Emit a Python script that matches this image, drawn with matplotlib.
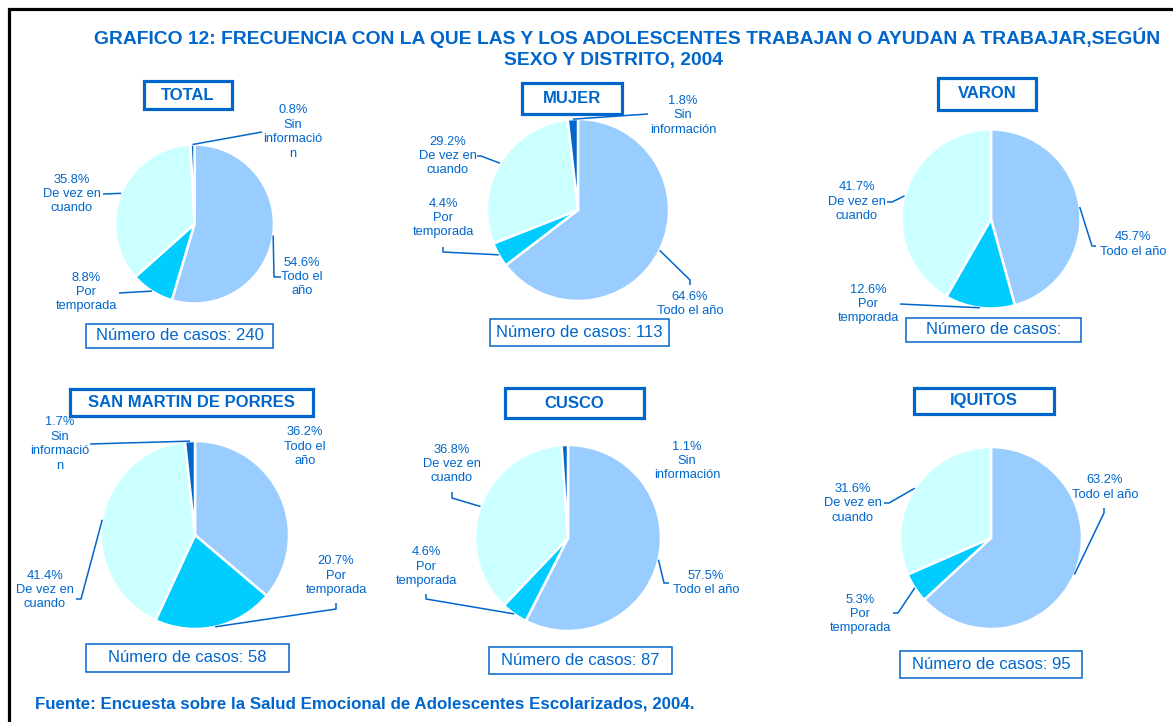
import matplotlib
matplotlib.use("Agg")
import matplotlib.pyplot as plt
from matplotlib.patches import Rectangle
import numpy as np

plt.rcParams['font.family'] = ['Liberation Sans', 'DejaVu Sans']

W, H = 1173, 722

# ---------------- data ----------------
categories = ["Todo el año", "Por temporada", "De vez en cuando", "Sin información"]
panel_titles = ["TOTAL", "MUJER", "VARON", "SAN MARTIN DE PORRES", "CUSCO", "IQUITOS"]
total_pct = [54.6, 8.8, 35.8, 0.8]
mujer_pct = [64.6, 4.4, 29.2, 1.8]
varon_pct = [45.7, 12.6, 41.7, 0.0]
smp_pct = [36.2, 20.7, 41.4, 1.7]
cusco_pct = [57.5, 4.6, 36.8, 1.1]
iquitos_pct = [63.2, 5.3, 31.6, 0.0]
casos = ["240", "113", "", "58", "87", "95"]

# category labels as wrapped in the original chart
labels_total = ["Todo el\naño", "Por\ntemporada", "De vez en\ncuando", "Sin\ninformació\nn"]
labels_mujer = ["Todo el año", "Por\ntemporada", "De vez en\ncuando", "Sin\ninformación"]
labels_varon = ["Todo el año", "Por\ntemporada", "De vez en\ncuando", "Sin\ninformación"]
labels_smp = ["Todo el\naño", "Por\ntemporada", "De vez en\ncuando", "Sin\ninformació\nn"]
labels_cusco = ["Todo el año", "Por\ntemporada", "De vez en\ncuando", "Sin\ninformación"]
labels_iquitos = ["Todo el año", "Por\ntemporada", "De vez en\ncuando", "Sin\ninformación"]

title_line1 = "GRAFICO 12: FRECUENCIA CON LA QUE LAS Y LOS ADOLESCENTES TRABAJAN O AYUDAN A TRABAJAR,SEGÚN"
title_line2 = "SEXO Y DISTRITO, 2004"
source_text = "Fuente: Encuesta sobre la Salud Emocional de Adolescentes Escolarizados, 2004."

colors = ["#99CCFF", "#00CCFF", "#CCFFFF", "#0066CC"]
BLUE = "#0066CC"

values = [total_pct, mujer_pct, varon_pct, smp_pct, cusco_pct, iquitos_pct]
label_sets = [labels_total, labels_mujer, labels_varon, labels_smp, labels_cusco, labels_iquitos]

# ---------------- layout (pixel coordinates, y down) ----------------
layout = [
    dict(c=(194.5, 224), r=79.5, tbox=(144, 81, 232, 109), cbox=(86, 324, 273, 348),
         lab={0: ((302, 277), [(274, 277), (281, 277)]),
              1: ((86, 292), [(119, 293)]),
              2: ((72, 194), [(103, 194)]),
              3: ((293, 132), [(262, 132)])}),
    dict(c=(578, 210), r=91, tbox=(522, 83, 622, 114), cbox=(490, 319, 669, 346),
         lab={0: ((690, 304), [(690, 280), (690, 285)]),
              1: ((443, 218), [(443, 252), (443, 247)]),
              2: ((448, 156), [(481, 156), (477, 156)]),
              3: ((683, 115.5), [(648, 114)])}),
    dict(c=(991, 219), r=89.5, tbox=(938, 78, 1036, 110), cbox=(906, 318, 1081, 342),
         lab={0: ((1133, 244.5), [(1092, 246), (1096, 246)]),
              1: ((868, 304), [(900, 304)]),
              2: ((857, 201.7), [(892, 202), (887, 202)])}),
    dict(c=(195, 535), r=94, tbox=(70, 389, 313, 416), cbox=(86, 644, 289, 672),
         lab={0: ((305, 446.7), None),
              1: ((336, 575.7), [(336, 609), (336, 603)]),
              2: ((45, 590), [(81, 599), (76, 599)]),
              3: ((60, 444), [(90, 444)])}),
    dict(c=(568, 538), r=93, tbox=(505, 388, 644, 418), cbox=(489, 647, 672, 674),
         lab={0: ((706, 583), [(664, 583), (669, 583)]),
              1: ((426, 566.7), [(426, 599), (426, 594)]),
              2: ((452, 464), [(452, 498), (452, 492)]),
              3: ((687, 461), None)}),
    dict(c=(991, 538), r=91, tbox=(914, 388, 1054, 414), cbox=(900, 651, 1082, 678),
         lab={0: ((1105, 487.5), [(1104, 513), (1104, 508)]),
              1: ((860, 614), [(898, 613), (893, 613)]),
              2: ((853, 503.3), [(889, 503), (884, 503)])}),
]


def Y(py):
    return H - py


fig = plt.figure(figsize=(W / 100, H / 100), dpi=100)
ax = fig.add_axes([0, 0, 1, 1])

LABEL_FS = 9.3

for vals, labs, title, ncas, lay in zip(values, label_sets, panel_titles, casos, layout):
    cx, cy = lay["c"]
    r = lay["r"]
    idx = [i for i, v in enumerate(vals) if v > 0]
    wedges, _ = ax.pie([vals[i] for i in idx], colors=[colors[i] for i in idx],
                       startangle=90, counterclock=False, center=(cx, Y(cy)), radius=r,
                       frame=True, wedgeprops=dict(edgecolor="white", linewidth=1.8))
    for w, i in zip(wedges, idx):
        if i not in lay["lab"]:
            continue
        (tx, ty), pts = lay["lab"][i]
        ax.text(tx, Y(ty), f"{vals[i]:.1f}%\n{labs[i]}", ha="center", va="center",
                multialignment="center", fontsize=LABEL_FS, color=BLUE, linespacing=1.27)
        if pts:
            th = np.deg2rad(0.5 * (w.theta1 + w.theta2))
            ex, ey = cx + r * np.cos(th), Y(cy) + r * np.sin(th)
            xs = [ex] + [p[0] for p in pts]
            ys = [ey] + [Y(p[1]) for p in pts]
            ax.plot(xs, ys, color=BLUE, lw=1.1, solid_capstyle="butt")
    # title box
    x0, y0, x1, y1 = lay["tbox"]
    ax.add_patch(Rectangle((x0, Y(y1)), x1 - x0, y1 - y0, facecolor="white",
                           edgecolor=BLUE, lw=2.3, zorder=3))
    ax.text((x0 + x1) / 2, Y((y0 + y1) / 2), title, ha="center", va="center",
            fontsize=12, fontweight="bold", color=BLUE, zorder=4)
    # cases box
    x0, y0, x1, y1 = lay["cbox"]
    ax.add_patch(Rectangle((x0, Y(y1)), x1 - x0, y1 - y0, facecolor="white",
                           edgecolor=BLUE, lw=1.1, zorder=3))
    ax.text((x0 + x1) / 2, Y((y0 + y1) / 2) , f"Número de casos: {ncas}".rstrip(),
            ha="center", va="center", fontsize=12, color=BLUE, zorder=4)

# main title
ax.text(627, Y(38), title_line1, ha="center", va="center", fontsize=13.9,
        fontweight="bold", color=BLUE)
ax.text(614, Y(61), title_line2, ha="center", va="center", fontsize=13.9,
        fontweight="bold", color=BLUE)
# source
ax.text(35, Y(704), source_text, ha="left", va="center", fontsize=12.2,
        fontweight="bold", color=BLUE)

# outer frame
ax.add_patch(Rectangle((9, -20), W + 20, Y(9) + 20, fill=False, edgecolor="black", lw=2.3))

ax.set_xlim(0, W)
ax.set_ylim(0, H)
ax.set_axis_off()

fig.savefig("out.png", dpi=100, facecolor="white")
